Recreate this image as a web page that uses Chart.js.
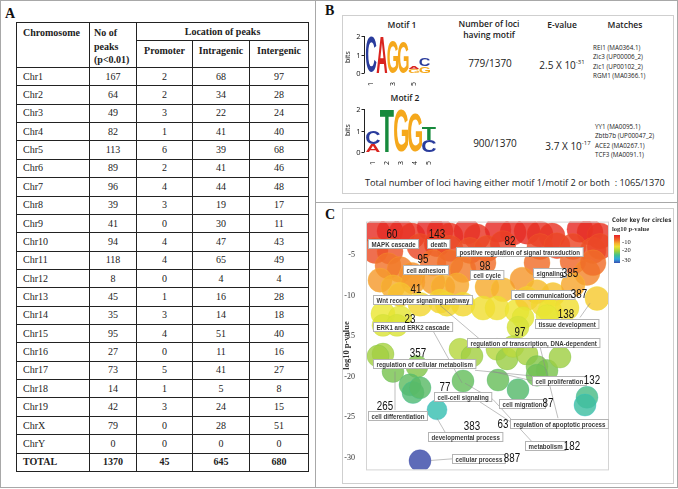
<!DOCTYPE html>
<html>
<head>
<meta charset="utf-8">
<script src="https://cdn.jsdelivr.net/npm/chart.js@4.4.0/dist/chart.umd.min.js"></script>
<style>
  body { margin: 0; background: #fff; }
  #fig { position: relative; width: 678px; height: 489px; overflow: hidden; background: #fff; }
  .frame { position: absolute; border: 1px solid #a8a8a8; box-sizing: border-box; }
  .plabel { position: absolute; font: bold 14px "Liberation Serif", serif; color: #111; }
  #tbl { position: absolute; left: 16px; top: 22px; border-collapse: collapse; table-layout: fixed;
         width: 292px; font: 10px "Liberation Serif", serif; color: #222; }
  #tbl td { border: 1px solid #222; padding: 0; text-align: center; vertical-align: middle; line-height: 12px; }
  #tbl td.l { text-align: left; padding-left: 6px; }
  #tbl .h { font-weight: bold; vertical-align: top; padding-top: 3px; line-height: 13.5px; }
  .bt { position: absolute; font-family: "Open Sans", sans-serif; color: #222; white-space: nowrap; }
  .c { width: 200px; text-align: center; }
  .hd { font-size: 8.5px; font-weight: 600; line-height: 11px; }
  .big { font-size: 10px; line-height: 12px; }
  .mt { font-size: 6.3px; line-height: 9.3px; }
  .bits { position: absolute; font: 7px "Open Sans", sans-serif; color: #111; transform: rotate(-90deg); transform-origin: left top; }
  .btick { position: absolute; width: 12px; text-align: right; font: 7.5px "Open Sans", sans-serif; line-height: 8px; color: #111; }
  sup { font-size: 6px; position: relative; top: -1px; }
  canvas { position: absolute; }
</style>
</head>
<body>
<div id="fig">
  <div class="frame" style="left:0;top:0;width:678px;height:488px;"></div>
  <div class="frame" style="left:315px;top:0;width:1px;height:488px;border-width:0 0 0 1px;"></div>
  <div class="frame" style="left:315px;top:202px;width:363px;height:1px;border-width:1px 0 0 0;"></div>
  <div class="frame" style="left:342px;top:15px;width:332px;height:179px;border-color:#cfcfcf;"></div>
  <div class="frame" style="left:342px;top:208px;width:332px;height:276px;border-color:#cfcfcf;"></div>

  <div class="plabel" style="left:5px;top:6px;">A</div>
  <div class="plabel" style="left:325px;top:3px;">B</div>
  <div class="plabel" style="left:325px;top:207px;">C</div>

  <table id="tbl"></table>

  <!-- panel B texts -->
  <div class="bt c hd" style="left:302px;top:19px;">Motif 1</div>
  <div class="bt c hd" style="left:389px;top:18px;">Number of loci<br>having motif</div>
  <div class="bt c hd" style="left:462px;top:19px;">E-value</div>
  <div class="bt c hd" style="left:525px;top:19px;">Matches</div>
  <div class="bt c big" style="left:390px;top:57px;">779/1370</div>
  <div class="bt c big" style="left:462px;top:57px;">2.5 X 10<sup>-31</sup></div>
  <div class="bt mt" style="left:593px;top:43px;">REI1 (MA0364.1)<br>Zic3 (UP00006_2)<br>Zic1 (UP00102_2)<br>RGM1 (MA0366.1)</div>
  <div class="bt c hd" style="left:305px;top:92px;">Motif 2</div>
  <div class="bt c big" style="left:395px;top:137px;">900/1370</div>
  <div class="bt c big" style="left:468px;top:138px;">3.7 X 10<sup>-17</sup></div>
  <div class="bt mt" style="left:595px;top:122px;">YY1 (MA0095.1)<br>Zbtb7b (UP00047_2)<br>ACE2 (MA0267.1)<br>TCF3 (MA0091.1)</div>
  <div class="bt" style="left:365px;top:176px;font-size:9.2px;line-height:13px;">Total number of loci having either motif 1/motif 2 or both&nbsp; : 1065/1370</div>

  <canvas id="logo1" width="95" height="62" style="left:340px;top:30px;"></canvas>
  <canvas id="logo2" width="101" height="62" style="left:340px;top:103px;"></canvas>
  <div class="bits" style="left:343px;top:63px;">bits</div>
  <div class="bits" style="left:343px;top:136px;">bits</div>
  <div id="ticks1"></div>
  <div id="ticks2"></div>

  <canvas id="goChart" width="331" height="275" style="left:342px;top:208px;"></canvas>

  <!-- colour key -->
  <div class="bt" style="left:612px;top:216px;font:bold 6.3px 'DejaVu Sans';line-height:8px;color:#333;transform:scaleX(0.84);transform-origin:left top;">Color key for circles</div>
  <div class="bt" style="left:612px;top:225px;font:bold 6.5px 'Liberation Serif';line-height:8px;color:#333;">log10 p-value</div>
  <div style="position:absolute;left:614px;top:235px;width:6px;height:28px;background:linear-gradient(to bottom,#e8202a 0%,#f06a28 18%,#f5b030 30%,#eee030 42%,#9ad040 58%,#40c090 72%,#30a8e0 86%,#3a4fb0 100%);"></div>
  <div class="bt" style="left:622px;top:238px;font:6.5px 'Liberation Serif';line-height:8px;">-10<br>-20</div>
  <div class="bt" style="left:622px;top:256px;font:6.5px 'Liberation Serif';line-height:8px;">-30</div>
</div>

<script>
// ---------- panel A: peaks per chromosome ----------
const chromosomes = ['Chr1','Chr2','Chr3','Chr4','Chr5','Chr6','Chr7','Chr8','Chr9','Chr10','Chr11',
  'Chr12','Chr13','Chr14','Chr15','Chr16','Chr17','Chr18','Chr19','ChrX','ChrY'];
const peaks      = [167, 64, 49, 82, 113, 89, 96, 39, 41, 94, 118, 8, 45, 35, 95, 27, 73, 14, 42, 79, 0];
const promoter   = [2, 2, 3, 1, 6, 2, 4, 3, 0, 4, 4, 0, 1, 3, 4, 0, 5, 1, 3, 0, 0];
const intragenic = [68, 34, 22, 41, 39, 41, 44, 19, 30, 47, 65, 4, 16, 14, 51, 11, 41, 5, 24, 28, 0];
const intergenic = [97, 28, 24, 40, 68, 46, 48, 17, 11, 43, 49, 4, 28, 18, 40, 16, 27, 8, 15, 51, 0];
const totals = ['TOTAL', 1370, 45, 645, 680];

// ---------- panel B: motif logos (bits per position) ----------
const motif1Pos = ['1', '2', '3', '4', '5', '6'];
const motif1A = [0, 1.95, 0, 0, 0.13, 0];
const motif1C = [1.95, 0, 0, 0, 0, 0.42];
const motif1G = [0, 0, 1.8, 1.7, 0.2, 0.38];
const motif2Pos = ['1', '2', '3', '4', '5'];
const motif2A = [0.38, 0, 0, 0, 0];
const motif2C = [0.58, 0, 0, 0, 0.55];
const motif2G = [0, 0, 1.95, 1.75, 0];
const motif2T = [0, 2.0, 0, 0, 0.62];
const bitTicks = [0, 1, 2];

// ---------- panel C: GO term bubbles (semantic x, log10 p-value y) ----------
const bubbleX = [11,24,36,46,64,74,84,101,111,132,147,161,174,186,214,224,234,
  9,24,54,71,84,104,121,137,174,191,207,227,234,
  22,34,46,67,84,97,117,171,207,221,227,
  14,27,47,67,77,91,121,137,156,171,187,207,231,34,74,
  17,34,54,81,97,117,131,151,161,177,184,201,
  17,31,157,152,181,
  17,12,27,51,44,47,54,94,106,131,141,147,161,171,181,194,171,97,132,152,71,221,219,54];
const bubbleY = [-2.2,-2.08,-2.2,-2.67,-1.61,-2.08,-2.67,-2.08,-2.79,-1.85,-2.2,-2.08,-2.44,-2.67,-1.85,-2.2,-2.67,
  -4.45,-4.56,-3.97,-3.62,-4.21,-4.45,-4.21,-3.62,-3.97,-3.86,-3.97,-4.45,-3.97,
  -6.34,-6.81,-7.52,-5.98,-5.98,-6.81,-5.98,-5.98,-5.75,-7.16,-5.98,
  -8.11,-8.94,-8.35,-8.35,-8.94,-8.7,-8.94,-9.29,-7.99,-9.53,-9.88,-8.7,-10.36,-9.88,-10.7,
  -12.25,-12.72,-11.07,-11.07,-11.07,-11.54,-11.54,-11.89,-10.36,-11.07,-11.89,-11.54,
  -13.67,-13.67,-12.72,-13.9,-12.48,
  -17.21,-17.45,-19.34,-18.75,-20.99,-21.94,-21.35,-16.62,-17.45,-16.62,-17.8,-16.27,-17.21,-18.75,-19.22,-17.57,-19.81,-20.52,-20.4,-21.59,-24.07,-22.53,-23.48,-30.33];
const bubbleR = [13,13,13,13,13,13,13,13,13,13,13,13,13,13,13,13,13,
  13,13,13,13,13,13,13,13,13,13,13,13,13,
  13,13,13,13,13,13,13,13,13,13,13,
  12,12,12,12,12,12,12,12,12,12,12,12,12,12,12,
  12,12,12,12,12,12,12,12,12,12,12,12,
  11,11,11,11,11,
  11,11,11,11,11,11,11,11,11,11,11,11,11,11,11,11,11,11,11,11,10,11,11,11];

const termNames = ['MAPK cascade','death','positive regulation of signal transduction','cell adhesion','cell cycle',
  'signaling','Wnt receptor signaling pathway','cell communication','ERK1 and ERK2 cascade','tissue development',
  'regulation of transcription, DNA-dependent','regulation of cellular metabolism','cell proliferation',
  'cell-cell signaling','cell migration','cell differentiation','regulation of apoptotic process',
  'developmental process','metabolism','cellular process'];
const termX = [2, 61, 90, 37, 104, 167, 7, 145, 7, 169, 101, 7, 166, 68, 133, 2, 144, 62, 159, 86];
const termY = [-3.6, -3.6, -4.6, -6.8, -7.5, -7.2, -10.6, -9.9, -13.9, -13.55, -15.9, -18.4, -20.5, -22.5,
  -23.35, -24.8, -25.85, -27.4, -28.55, -30.1];
const termCount = ['60','143','82','95','98','385','41','387','23','138','97','357','132','77','87','265','63','383','182','887'];
const countX = [26, 71, 144, 57, 119, 204, 50, 213, 44, 200, 154, 52, 226, 79, 182, 19, 137, 106, 206, 146];
const countY = [-2.55, -2.55, -3.4, -5.6, -6.45, -7.3, -9.3, -9.9, -12.95, -12.35, -14.6, -17.2, -20.5, -21.35,
  -23.35, -23.7, -25.85, -26.1, -28.55, -30.1];

// connector lines between labels and circles
const linkX1 = [86, 79, 29, 166, 127, 192, 114, 166, 109, 74, 67, 224];
const linkY1 = [-30.1, -26.8, -24.1, -28.0, -22.8, -25.1, -23.1, -20.5, -19.2, -11.2, -14.35, -10.95];
const linkX2 = [65, 71, 29, 127, 99, 174, 144, 127, 166, 114, 96, 214];
const linkY2 = [-30.3, -25.1, -19.35, -22.8, -20.8, -16.3, -25.5, -19.35, -19.9, -15.4, -20.75, -12.7];

// ---------- table ----------
(function buildTable() {
  const t = document.getElementById('tbl');
  let html = '<colgroup><col style="width:73px"><col style="width:47px"><col style="width:56px"><col style="width:57px"><col style="width:59px"></colgroup>';
  html += '<tr style="height:18px"><td class="h l" rowspan="2">Chromosome</td><td class="h l" rowspan="2" style="padding-left:4px">No of<br>peaks<br>(p&lt;0.01)</td>' +
          '<td class="h" colspan="3" style="padding-top:2px">Location of peaks</td></tr>';
  html += '<tr style="height:27px"><td class="h">Promoter</td><td class="h">Intragenic</td><td class="h">Intergenic</td></tr>';
  chromosomes.forEach((c, i) => {
    html += '<tr style="height:18.36px"><td class="l">' + c + '</td><td>' + peaks[i] + '</td><td>' + promoter[i] +
            '</td><td>' + intragenic[i] + '</td><td>' + intergenic[i] + '</td></tr>';
  });
  html += '<tr style="height:18.36px;font-weight:bold"><td class="l">' + totals[0] + '</td><td>' + totals[1] + '</td><td>' +
          totals[2] + '</td><td>' + totals[3] + '</td><td>' + totals[4] + '</td></tr>';
  t.innerHTML = html;
})();

// ---------- logo charts ----------
const letterColors = { A: '#d9241f', C: '#2a3c9c', G: '#f5a81c', T: '#168a3c' };

const logoPlugin = {
  id: 'logoGlyphs',
  afterDraw(chart) {
    const ctx = chart.ctx;
    const ca = chart.chartArea, sy = chart.scales.y;
    // bits axis: line + tick marks on the canvas, tick numbers as page text
    ctx.save();
    ctx.strokeStyle = '#222';
    ctx.lineWidth = 1;
    const ax = Math.round(ca.left) - 1.5;
    ctx.beginPath();
    ctx.moveTo(ax, sy.getPixelForValue(2));
    ctx.lineTo(ax, sy.getPixelForValue(0));
    ctx.stroke();
    const box = document.getElementById(chart.options.tickBox);
    const cv = chart.canvas;
    let html = '';
    bitTicks.forEach(v => {
      const py = Math.round(sy.getPixelForValue(v)) + 0.5;
      ctx.beginPath();
      ctx.moveTo(ax - 3, py);
      ctx.lineTo(ax, py);
      ctx.stroke();
      const top = cv.offsetTop + py - 4.5;
      const left = cv.offsetLeft + ax - 16;
      html += '<div class="btick" style="left:' + left + 'px;top:' + top + 'px;">' + v + '</div>';
    });
    box.innerHTML = html;
    ctx.restore();
    // letters, one per stacked bar element
    chart.data.datasets.forEach((ds, i) => {
      const meta = chart.getDatasetMeta(i);
      meta.data.forEach((bar, j) => {
        if (!ds.data[j]) return;
        const p = bar.getProps(['x', 'y', 'base', 'width'], true);
        ctx.save();
        ctx.font = 'bold 100px "Liberation Sans"';
        const m = ctx.measureText(ds.label);
        const gw = m.actualBoundingBoxLeft + m.actualBoundingBoxRight;
        const gh = m.actualBoundingBoxAscent + m.actualBoundingBoxDescent;
        ctx.translate(p.x - p.width / 2, p.y);
        ctx.scale(p.width / gw, (p.base - p.y) / gh);
        ctx.fillStyle = letterColors[ds.label];
        ctx.fillText(ds.label, m.actualBoundingBoxLeft, m.actualBoundingBoxAscent);
        ctx.restore();
      });
    });
  }
};

function makeLogo(id, tickBox, labels, layers, xh) {
  new Chart(document.getElementById(id), {
    type: 'bar',
    data: {
      labels: labels,
      datasets: layers.map(l => ({
        label: l[0], data: l[1], backgroundColor: 'rgba(0,0,0,0)', borderWidth: 0,
        barPercentage: 1, categoryPercentage: 1
      }))
    },
    options: {
      tickBox: tickBox,
      responsive: false, animation: false, events: [],
      layout: { padding: { top: 6, right: 5, left: 26, bottom: 0 } },
      plugins: { legend: { display: false }, tooltip: { enabled: false } },
      scales: {
        x: {
          stacked: true, grid: { display: false }, border: { display: false },
          ticks: { font: { size: 7, family: 'Open Sans' }, color: '#111', minRotation: 90, maxRotation: 90, padding: 1 },
          afterFit(s) { s.height = xh; }
        },
        y: { stacked: true, min: 0, max: 2, display: false }
      }
    },
    plugins: [logoPlugin]
  });
}

makeLogo('logo1', 'ticks1', motif1Pos, [['G', motif1G], ['A', motif1A], ['C', motif1C]], 19);
makeLogo('logo2', 'ticks2', motif2Pos, [['A', motif2A], ['C', motif2C], ['G', motif2G], ['T', motif2T]], 13);

// ---------- GO bubble chart ----------
const colorStops = [
  [-1, [228, 32, 38]], [-3.5, [234, 62, 38]], [-6, [240, 108, 42]], [-8.5, [246, 162, 46]],
  [-10.5, [246, 204, 48]], [-12, [238, 230, 52]], [-14, [214, 226, 56]], [-16.5, [186, 216, 62]],
  [-19, [126, 196, 76]], [-21.5, [88, 186, 104]], [-23.5, [62, 190, 162]], [-25, [46, 192, 202]], [-30, [58, 74, 168]]
];
function colorFor(v, a) {
  let c = colorStops[colorStops.length - 1][1];
  for (let i = 0; i < colorStops.length - 1; i++) {
    const [v0, c0] = colorStops[i], [v1, c1] = colorStops[i + 1];
    if (v <= v0 && v >= v1) {
      const t = (v0 - v) / (v0 - v1);
      c = c0.map((x, k) => Math.round(x + (c1[k] - x) * t));
      break;
    }
    if (v > v0 && i === 0) { c = c0; break; }
  }
  return 'rgba(' + c.join(',') + ',' + a + ')';
}

const bubbles = bubbleX.map((x, i) => ({ x: x, y: bubbleY[i], r: bubbleR[i] }));

const goLabels = {
  id: 'goLabels',
  afterDatasetsDraw(chart) {
    const { ctx, chartArea: ca } = chart;
    const sx = chart.scales.x, sy = chart.scales.y;
    ctx.save();
    ctx.strokeStyle = '#d4d4d4';
    ctx.lineWidth = 1;
    ctx.strokeRect(ca.left + 0.5, ca.top + 0.5, ca.right - ca.left, ca.bottom - ca.top);

    ctx.strokeStyle = 'rgba(140,140,140,0.8)';
    ctx.lineWidth = 0.7;
    linkX1.forEach((x, i) => {
      ctx.beginPath();
      ctx.moveTo(sx.getPixelForValue(x), sy.getPixelForValue(linkY1[i]));
      ctx.lineTo(sx.getPixelForValue(linkX2[i]), sy.getPixelForValue(linkY2[i]));
      ctx.stroke();
    });

    termNames.forEach((name, i) => {
      ctx.font = 'bold 7.5px "Liberation Sans"';
      const w = ctx.measureText(name).width * 0.82 + 6;
      const left = Math.round(sx.getPixelForValue(termX[i])) + 0.5;
      const cy = Math.round(sy.getPixelForValue(termY[i]));
      ctx.fillStyle = '#fff';
      ctx.fillRect(left, cy - 4.5, w, 9);
      ctx.strokeStyle = '#b4b4b4';
      ctx.lineWidth = 1;
      ctx.strokeRect(left, cy - 4.5, w, 9);
      ctx.save();
      ctx.translate(left + 3, cy + 0.5);
      ctx.scale(0.82, 1);
      ctx.fillStyle = '#3a3a3a';
      ctx.textBaseline = 'middle';
      ctx.fillText(name, 0, 0);
      ctx.restore();
    });

    termCount.forEach((n, i) => {
      ctx.save();
      ctx.font = '12.5px "Liberation Sans"';
      ctx.translate(sx.getPixelForValue(countX[i]), sy.getPixelForValue(countY[i]));
      ctx.scale(0.78, 1);
      ctx.fillStyle = '#111';
      ctx.textAlign = 'center';
      ctx.textBaseline = 'middle';
      ctx.fillText(n, 0, 0);
      ctx.restore();
    });
    ctx.restore();
  }
};

new Chart(document.getElementById('goChart'), {
  type: 'bubble',
  data: {
    datasets: [{
      data: bubbles,
      backgroundColor: c => colorFor(c.raw.y, 0.82),
      borderColor: c => colorFor(c.raw.y - 1.5, 0.6),
      borderWidth: 0.6
    }]
  },
  options: {
    responsive: false, animation: false, events: [],
    layout: { padding: { top: 9, right: 65, bottom: 8, left: 0 } },
    plugins: { legend: { display: false }, tooltip: { enabled: false } },
    scales: {
      x: { type: 'linear', min: 0, max: 242, display: false },
      y: {
        min: -31.4, max: -0.9,
        afterBuildTicks(s) { s.ticks = [-30, -25, -20, -15, -10, -5].map(v => ({ value: v })); },
        ticks: { font: { size: 8, family: 'Liberation Serif' }, color: '#333', padding: 3 },
        grid: { display: false },
        border: { display: false },
        title: { display: true, text: 'log10 p-value', font: { size: 8.5, family: 'Liberation Serif', weight: 'bold' }, color: '#333', padding: 0 },
        afterFit(s) { s.width = 24; }
      }
    }
  },
  plugins: [goLabels]
});
</script>
</body>
</html>
